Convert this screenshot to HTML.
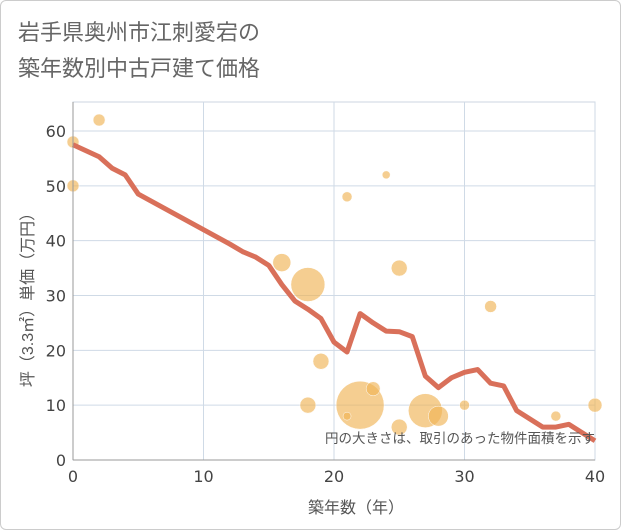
<!DOCTYPE html>
<html><head><meta charset="utf-8"><style>
body{margin:0;background:#fff;font-family:"Liberation Sans","Noto Sans CJK JP",sans-serif;}
.frame{position:absolute;left:0;top:0;width:619px;height:528px;border:1px solid #ccc;border-radius:6px;}
</style></head><body>
<div class="frame"></div>
<svg width="621" height="530" style="position:absolute;left:0;top:0">
<text x="18" y="40" font-size="22" fill="#666" font-family="Liberation Sans,Noto Sans CJK JP,sans-serif">岩手県奥州市江刺愛宕の</text>
<text x="18" y="76" font-size="22" fill="#666" font-family="Liberation Sans,Noto Sans CJK JP,sans-serif">築年数別中古戸建て価格</text>
<g id="grid"></g><g id="bubbles"></g><g id="line"></g><g id="axes"></g>
<text x="595" y="443" font-size="13.5" fill="#555" text-anchor="end" font-family="Liberation Sans,Noto Sans CJK JP,sans-serif">円の大きさは、取引のあった物件面積を示す</text>
<text x="356" y="513" font-size="16" fill="#555" text-anchor="middle" font-family="Liberation Sans,Noto Sans CJK JP,sans-serif">築年数（年）</text>
<text transform="translate(33,296) rotate(-90)" font-size="16" fill="#555" text-anchor="middle" font-family="Liberation Sans,Noto Sans CJK JP,sans-serif">坪（3.3㎡）単価（万円）</text>
</svg>
<script>
const xTicks=[0,10,20,30,40];
const yTicks=[0,10,20,30,40,50,60];
const lineYears=[0,2,3,4,5,6,7,8,9,10,11,12,13,14,15,16,17,18,19,20,21,22,23,24,25,26,27,28,29,30,31,32,33,34,35,36,37,38,39,40];
const lineValues=[57.5,55.3,53.2,52,48.5,47.2,45.9,44.6,43.3,42,40.7,39.4,38,37,35.5,32,29,27.5,25.8,21.5,19.7,26.7,25,23.5,23.4,22.5,15.3,13.2,15,16,16.5,14,13.5,9,7.5,6,6,6.5,5,3.5];
const bubbleYears=[0,2,0,21,24,16,18,25,32,19,18,22,23,21,25,27,28,30,37,40];
const bubbleValues=[58,62,50,48,52,36,32,35,28,18,10,10,13,8,6,9,8,10,8,10];
const bubbleRadii=[6,6,6,5,4,9,17,8,6,8,8,24,7,4,8,17,10,5,5,7];
const X0=73,X1=595,Y0=460,Y1=131;
const xs=v=>X0+(X1-X0)*v/40, ys=v=>Y0-(Y0-Y1)*v/60;
const NS="http://www.w3.org/2000/svg";
function mk(t,a,p){const e=document.createElementNS(NS,t);for(const k in a)e.setAttribute(k,a[k]);p.appendChild(e);return e;}
const g=document.getElementById('grid'),ax=document.getElementById('axes');
mk('rect',{x:X0,y:102,width:X1-X0,height:Y0-102,fill:'none',stroke:'#ccd6e2'},g);
xTicks.forEach(t=>{const l=mk('line',{x1:xs(t),x2:xs(t),y1:102,y2:Y0,stroke:'#cfdae6'},g);

const tx=mk('text',{x:xs(t),y:482,'font-size':16,fill:'#444','text-anchor':'middle','font-family':'DejaVu Sans,sans-serif'},ax);tx.textContent=t;
});
yTicks.forEach(t=>{const l=mk('line',{x1:X0,x2:X1,y1:ys(t),y2:ys(t),stroke:'#cfdae6'},g);

const tx=mk('text',{x:66,y:ys(t)+6,'font-size':16,fill:'#444','text-anchor':'end','font-family':'DejaVu Sans,sans-serif'},ax);tx.textContent=t;
});
const al=mk('line',{x1:X0,x2:X0,y1:102,y2:Y0,stroke:'#999'},ax);

const bl=mk('line',{x1:X0,x2:X1,y1:Y0,y2:Y0,stroke:'#999'},ax);

const bg=document.getElementById('bubbles');
bubbleYears.forEach((yr,i)=>{const c=mk('circle',{cx:xs(yr),cy:ys(bubbleValues[i]),r:bubbleRadii[i],fill:'#f0b456','fill-opacity':0.65,stroke:'#fff','stroke-width':0.5},bg);
});
const p=mk('polyline',{points:lineYears.map((yr,i)=>xs(yr)+','+ys(lineValues[i])).join(' '),fill:'none',stroke:'#d9705a','stroke-width':5,'stroke-linejoin':'round'},document.getElementById('line'));

</script>
</body></html>
